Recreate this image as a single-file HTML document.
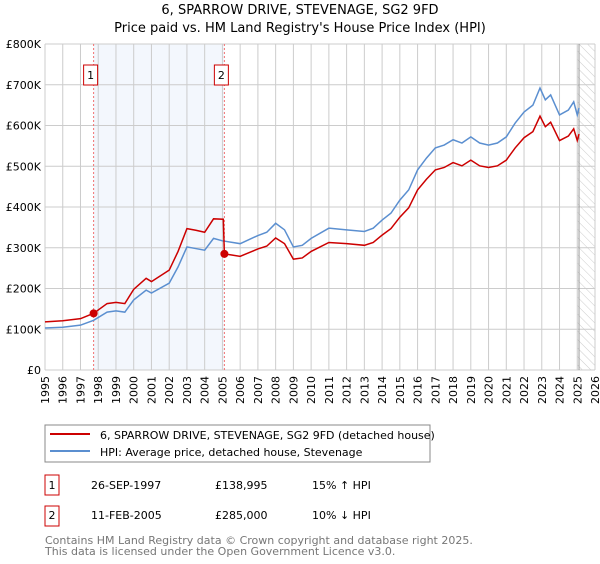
<!DOCTYPE html>
<html><head><meta charset="utf-8"><style>
body{margin:0;background:#fff;font-family:"DejaVu Sans","Liberation Sans",sans-serif;}
svg text{font-family:"DejaVu Sans","Liberation Sans",sans-serif;}
</style></head><body>
<svg id="c" width="600" height="560" xmlns="http://www.w3.org/2000/svg">
<defs><pattern id="hatch" width="6" height="6" patternUnits="userSpaceOnUse" patternTransform="rotate(-45)"><line x1="0" y1="0" x2="0" y2="6" stroke="#ccc" stroke-width="1"/></pattern></defs>
<text x="300" y="14" text-anchor="middle" font-size="13">6, SPARROW DRIVE, STEVENAGE, SG2 9FD</text>
<text x="300" y="32" text-anchor="middle" font-size="13">Price paid vs. HM Land Registry's House Price Index (HPI)</text>
<g id="plot"></g>
<rect x="45" y="425" width="385" height="37" fill="#fff" stroke="#888"/>
<line x1="50" y1="434" x2="90" y2="434" stroke="#cc0000" stroke-width="2"/>
<text x="100" y="439" font-size="11">6, SPARROW DRIVE, STEVENAGE, SG2 9FD (detached house)</text>
<line x1="50" y1="451" x2="90" y2="451" stroke="#5b8fd0" stroke-width="2"/>
<text x="100" y="456" font-size="11">HPI: Average price, detached house, Stevenage</text>
<g font-size="11">
<rect x="45" y="475" width="14" height="20" fill="#fff" stroke="#cc0000"/>
<text x="52" y="489" text-anchor="middle">1</text>
<text x="91" y="489">26-SEP-1997</text><text x="215" y="489">£138,995</text><text x="312" y="489">15% ↑ HPI</text>
<rect x="45" y="506" width="14" height="20" fill="#fff" stroke="#cc0000"/>
<text x="52" y="519" text-anchor="middle">2</text>
<text x="91" y="519">11-FEB-2005</text><text x="215" y="519">£285,000</text><text x="312" y="519">10% ↓ HPI</text>
</g>
<text x="45" y="544" font-size="11" fill="#777">Contains HM Land Registry data © Crown copyright and database right 2025.</text>
<text x="45" y="555" font-size="11" fill="#777">This data is licensed under the Open Government Licence v3.0.</text>
</svg>
<script>
const yTicks=[0,100,200,300,400,500,600,700,800];
const yTickLabels=["£0","£100K","£200K","£300K","£400K","£500K","£600K","£700K","£800K"];
const years=[1995,1996,1997,1998,1999,2000,2001,2002,2003,2004,2005,2006,2007,2008,2009,2010,2011,2012,2013,2014,2015,2016,2017,2018,2019,2020,2021,2022,2023,2024,2025,2026];
const hpiT=[1995,1996,1997,1997.74,1998.5,1999,1999.5,2000,2000.7,2001,2002,2002.5,2003,2003.5,2004,2004.5,2005,2006,2007,2007.5,2008,2008.5,2009,2009.5,2010,2011,2012,2013,2013.5,2014,2014.5,2015,2015.5,2016,2016.5,2017,2017.5,2018,2018.5,2019,2019.5,2020,2020.5,2021,2021.5,2022,2022.5,2022.9,2023.2,2023.5,2024,2024.5,2024.8,2025,2025.1];
const hpiV=[103,105,110,122,142,145,142,172,196,189,213,253,302,298,294,323,317,310,330,338,360,344,302,306,323,348,344,340,348,368,385,417,442,491,520,545,552,565,557,572,557,552,557,572,606,633,650,692,663,675,626,638,658,626,643];
const ppT=[1995,1996,1997,1997.74,1998.5,1999,1999.5,2000,2000.7,2001,2002,2002.5,2003,2003.5,2004,2004.5,2005.05,2005.11,2006,2007,2007.5,2008,2008.5,2009,2009.5,2010,2011,2012,2013,2013.5,2014,2014.5,2015,2015.5,2016,2016.5,2017,2017.5,2018,2018.5,2019,2019.5,2020,2020.5,2021,2021.5,2022,2022.5,2022.9,2023.2,2023.5,2024,2024.5,2024.8,2025,2025.1];
const ppV=[118,121,126,139,163,166,163,198,225,217,245,291,347,343,338,371,370,285,279,297,304,324,310,272,275,291,313,310,306,313,331,347,375,398,442,468,491,497,509,501,515,501,497,501,515,545,570,585,623,597,608,563,574,592,563,579];
const saleT=[1997.74,2005.11];
const saleV=[138.995,285];
const saleLabels=["1","2"];
const X0=45,X1=595,Y0=370,Y1=44;
const xs=t=>X0+(t-1995)/(2026-1995)*(X1-X0);
const ys=v=>Y0-v/800*(Y0-Y1);
const NS="http://www.w3.org/2000/svg";
const g=document.getElementById('plot');
function mk(tag,attrs){const e=document.createElementNS(NS,tag);for(const k in attrs)e.setAttribute(k,attrs[k]);g.appendChild(e);return e;}
let e=mk('rect',{x:xs(saleT[0]),y:Y1,width:xs(saleT[1])-xs(saleT[0]),height:Y0-Y1,fill:'#eef3fc',opacity:0.7});


e=mk('rect',{x:xs(2025),y:Y1,width:X1-xs(2025),height:Y0-Y1,fill:'url(#hatch)'});


years.forEach(y=>{
 e=mk('line',{x1:xs(y),x2:xs(y),y1:Y1,y2:Y0,stroke:'#ccc','stroke-width':1});
 
 
 e=mk('text',{x:xs(y)+4,y:Y0+6,'font-size':11,transform:`rotate(-90 ${xs(y)+4} ${Y0+6})`,'text-anchor':'end'});
 e.textContent=y;
 
 
});
yTicks.forEach((v,i)=>{
 e=mk('line',{x1:X0,x2:X1,y1:ys(v),y2:ys(v),stroke:'#ccc','stroke-width':1});
 
 
 e=mk('text',{x:X0-4,y:ys(v)+4,'font-size':11,'text-anchor':'end'});
 e.textContent=yTickLabels[i];
 
 
});
e=mk('line',{x1:xs(2025.1),x2:xs(2025.1),y1:Y1,y2:Y0,stroke:'#999','stroke-width':1});


saleT.forEach((t,i)=>{
 e=mk('line',{x1:xs(t),x2:xs(t),y1:Y1,y2:Y0,stroke:'#f07070','stroke-width':1,'stroke-dasharray':'2,2'});
 
 
 e=mk('rect',{x:xs(t)-10,y:65,width:14,height:20,fill:'#fff',stroke:'#cc0000'});
 
 
 e=mk('text',{x:xs(t)-3,y:79,'font-size':11,'text-anchor':'middle'});
 e.textContent=saleLabels[i];
 
 
});
e=mk('polyline',{points:hpiT.map((t,i)=>xs(t)+','+ys(hpiV[i])).join(' '),fill:'none',stroke:'#5b8fd0','stroke-width':1.5});


e=mk('polyline',{points:ppT.map((t,i)=>xs(t)+','+ys(ppV[i])).join(' '),fill:'none',stroke:'#cc0000','stroke-width':1.5});


saleT.forEach((t,i)=>{
 e=mk('circle',{cx:xs(t),cy:ys(saleV[i]),r:4,fill:'#cc0000'});
 
 
});
</script>
</body></html>
